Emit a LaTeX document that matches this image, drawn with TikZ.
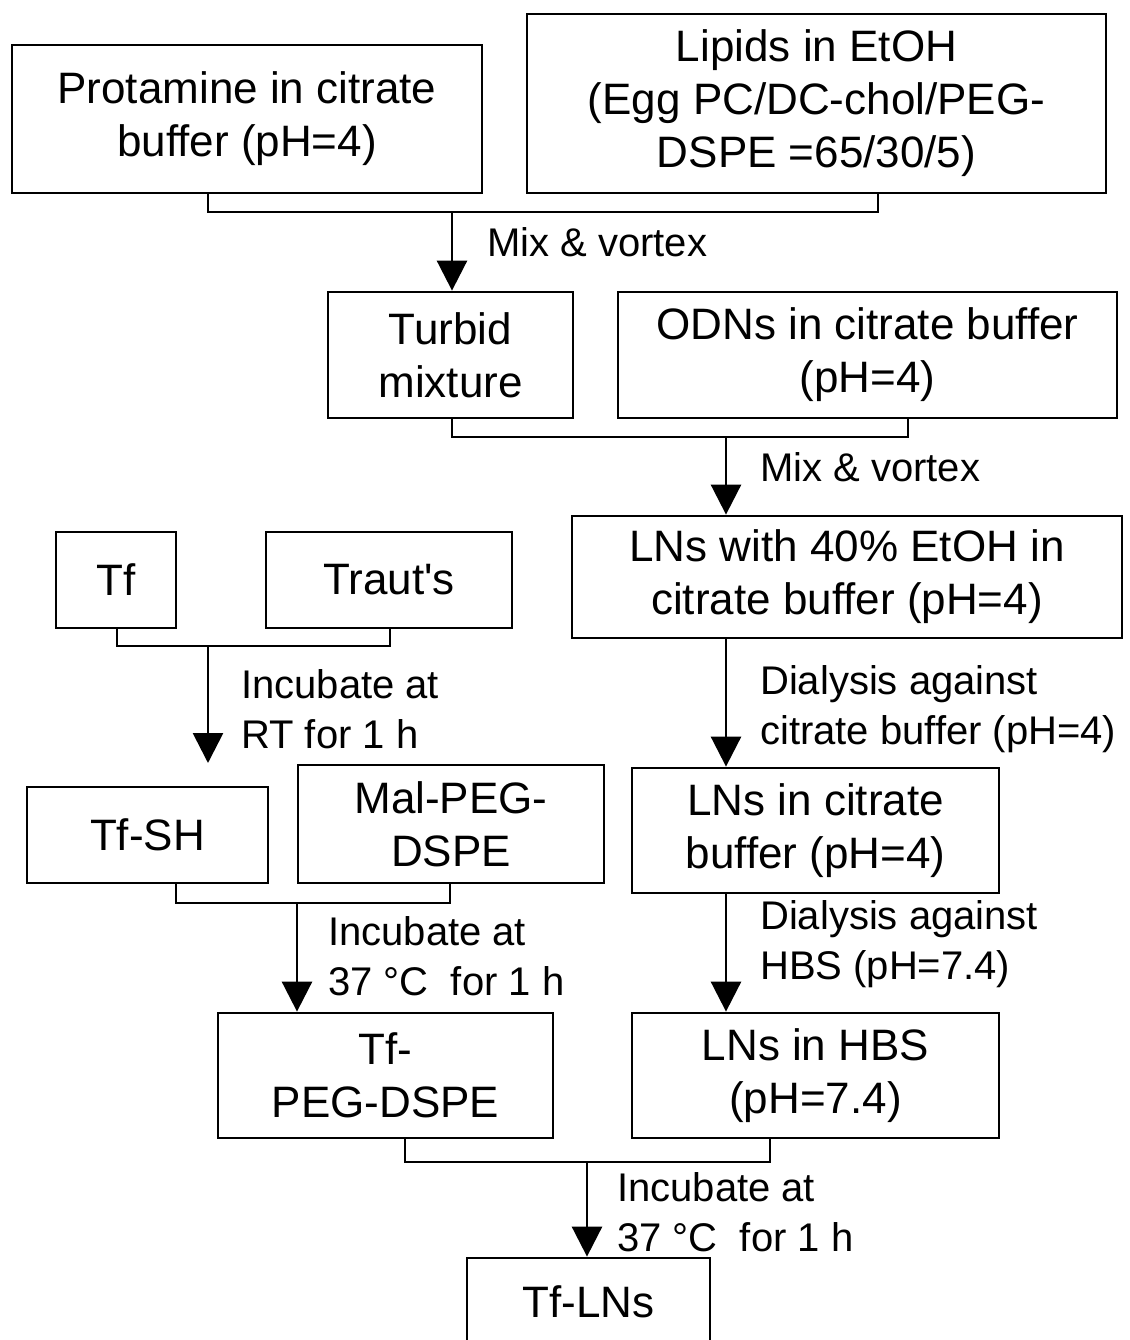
\documentclass[tikz,border=0pt]{standalone}
\usepackage{fontspec}
\newfontfamily\mainf{Liberation Sans}
\usetikzlibrary{arrows.meta}
\begin{document}
\begin{tikzpicture}[x=1pt,y=-1pt,
  box/.style={draw,line width=2.8pt,inner sep=0pt,align=center,
    font=\mainf\fontsize{44}{53}\selectfont},
  lbl/.style={anchor=west,inner sep=0pt,align=left,
    font=\mainf\fontsize{40}{50}\selectfont},
  conn/.style={line width=2.8pt},
  arr/.style={line width=2.8pt,-{Triangle[width=30pt,length=30pt]}}]
\useasboundingbox[fill=white] (0,0) rectangle (1129,1340);
% top row
\node[box,minimum width=470pt,minimum height=148pt] (A) at (247,119) {Protamine in citrate\\buffer (pH=4)};
\node[box,minimum width=579pt,minimum height=179pt] (B) at (816.5,103.5) {Lipids in EtOH\\(Egg PC/DC-chol/PEG-\\DSPE =65/30/5)};
% second row
\node[box,minimum width=245pt,minimum height=126pt] (C) at (450.5,355) {Turbid\\mixture};
\node[box,minimum width=499pt,minimum height=126pt] (D) at (867.5,355) {ODNs in citrate buffer\\(pH=4)};
% right column
\node[box,minimum width=550pt,minimum height=122pt] (E) at (847,577) {LNs with 40\% EtOH in\\citrate buffer (pH=4)};
\node[box,minimum width=367pt,minimum height=125pt] (F) at (815.5,830.5) {LNs in citrate\\buffer (pH=4)};
\node[box,minimum width=367pt,minimum height=125pt] (G) at (815.5,1075.5) {LNs in HBS\\(pH=7.4)};
% left column
\node[box,minimum width=120pt,minimum height=96pt] (H) at (116,580) {Tf};
\node[box,minimum width=246pt,minimum height=96pt] (I) at (389,580) {Traut's};
\node[box,minimum width=241pt,minimum height=96pt] (J) at (147.5,835) {Tf-SH};
\node[box,minimum width=306pt,minimum height=118pt] (K) at (451,824) {Mal-PEG-\\DSPE};
\node[box,minimum width=335pt,minimum height=125pt] (L) at (385.5,1075.5) {Tf-\\PEG-DSPE};
% bottom
\node[box,minimum width=243pt,minimum height=88pt] (M) at (588.5,1302) {Tf-LNs};
% bracket coordinates
\coordinate (a1) at (208,212); \coordinate (b1) at (878,212); \coordinate (m1) at (452,212);
\coordinate (a2) at (452,437); \coordinate (b2) at (908,437); \coordinate (m2) at (726,437);
\coordinate (a3) at (117,646); \coordinate (b3) at (390,646); \coordinate (m3) at (208,646);
\coordinate (t3) at (208,763);
\coordinate (a4) at (176,903); \coordinate (b4) at (450,903); \coordinate (m4) at (297,903);
\coordinate (a5) at (405,1162); \coordinate (b5) at (770,1162); \coordinate (m5) at (587,1162);
\coordinate (e1) at (726,0);
% connectors
\draw[conn] (A.south -| a1) -- (a1) -- (b1) -- (B.south -| b1);
\draw[arr] (m1) -- (C.north -| m1);
\draw[conn] (C.south -| a2) -- (a2) -- (b2) -- (D.south -| b2);
\draw[arr] (m2) -- (E.north -| m2);
\draw[arr] (E.south -| e1) -- (F.north -| e1);
\draw[arr] (F.south -| e1) -- (G.north -| e1);
\draw[conn] (H.south -| a3) -- (a3) -- (b3) -- (I.south -| b3);
\draw[arr] (m3) -- (t3);
\draw[conn] (J.south -| a4) -- (a4) -- (b4) -- (K.south -| b4);
\draw[arr] (m4) -- (L.north -| m4);
\draw[conn] (L.south -| a5) -- (a5) -- (b5) -- (G.south -| b5);
\draw[arr] (m5) -- (M.north -| m5);
% labels
\node[lbl] (l1) at (487,242) {Mix \& vortex};
\node[lbl] (l2) at (760,467) {Mix \& vortex};
\node[lbl] (l3) at (760,709) {Dialysis against\\citrate buffer (pH=4)};
\node[lbl] (l4) at (760,944) {Dialysis against\\HBS (pH=7.4)};
\node[lbl] (l5) at (241,709) {Incubate at\\RT for 1 h};
\node[lbl] (l6) at (328,956) {Incubate at\\37 °C\ \ for 1 h};
\node[lbl] (l7) at (617,1212) {Incubate at\\37 °C\ \ for 1 h};
\end{tikzpicture}
\end{document}
